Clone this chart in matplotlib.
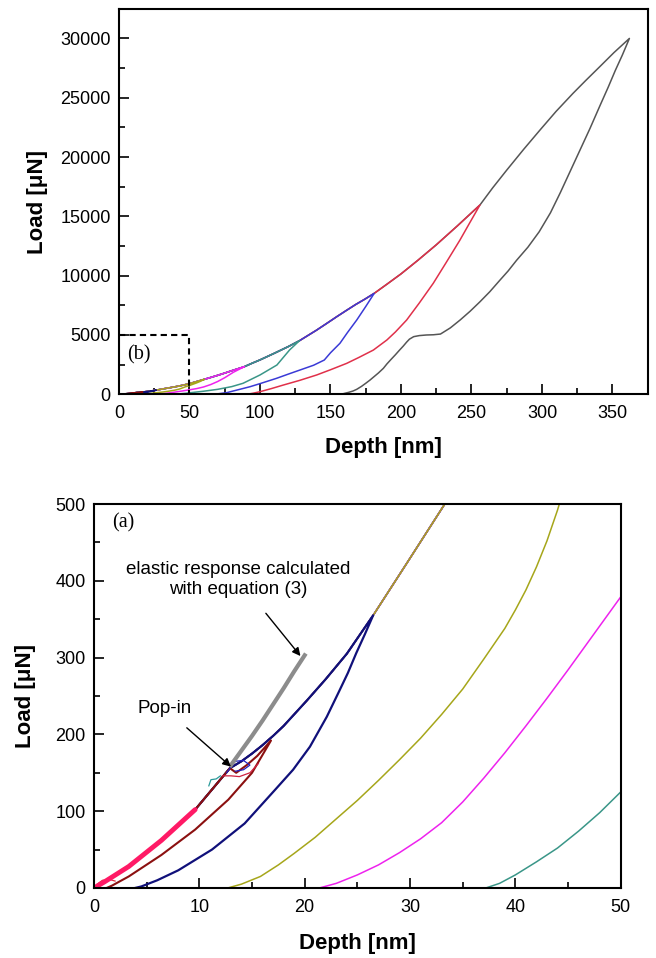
import matplotlib
matplotlib.use('Agg')
import matplotlib.pyplot as plt
from matplotlib.ticker import MultipleLocator

plt.rcParams['font.family'] = ['Liberation Sans', 'DejaVu Sans']

# common loading envelope (depth in nm, load in uN)
env_depth = [0, 1, 3.3, 6.4, 9.6, 12.9, 14, 15, 16, 17, 18, 19, 20.2, 22, 24, 26.5,
             29.7, 33.3, 36, 40, 45, 50, 55, 60.5, 65, 70, 75, 80, 85, 88.9, 94, 100, 110,
             120, 128, 140, 147, 154.4, 161, 168, 174.5, 181, 190, 200, 212, 225, 240, 256,
             265, 275, 287, 298.6, 310, 322, 331, 341, 351, 362]
env_load = [0, 8, 28, 62, 102, 156, 165, 175, 186, 198, 211, 226, 244, 272, 305, 355,
            423, 500, 555, 640, 760, 900, 1070, 1264, 1420, 1600, 1790, 1990, 2180, 2330, 2600,
            2900, 3450, 4020, 4520, 5400, 5950, 6540, 7050, 7580, 8030, 8510, 9280, 10150,
            11300, 12600, 14200, 15960, 17400, 18900, 20650, 22280, 23850, 25370, 26450, 27620,
            28800, 30000]

# unloading branches
gray_d = [362, 357, 352, 347, 341, 334, 327, 320, 313, 306, 298, 290, 282, 276, 270, 263,
          256, 249, 242, 235, 228, 223, 218, 213, 209, 206, 204, 201.5, 199, 196, 193, 190,
          187.5, 184, 181, 178, 175, 172, 168.6, 166, 163, 159, 154.5]
gray_p = [30000, 28600, 27300, 25900, 24300, 22400, 20600, 18800, 17000, 15300, 13700,
          12400, 11300, 10400, 9600, 8650, 7800, 7000, 6270, 5600, 5080, 5020, 5000, 4950,
          4860, 4650, 4400, 4050, 3730, 3330, 2950, 2560, 2190, 1800, 1500, 1200, 930, 670,
          420, 280, 170, 50, 0]

red_d = [256, 248, 241.8, 232, 222.9, 213, 204, 196, 190, 180.4, 170, 161.5, 150, 140.2,
         128, 116.5, 108, 100, 95, 90.6]
red_p = [15960, 14300, 13000, 11100, 9360, 7700, 6260, 5250, 4580, 3730, 3100, 2610, 2070,
         1630, 1170, 780, 480, 220, 90, 0]

blue_d = [181, 175, 168.6, 162, 156.7, 150, 145.6, 138, 128.4, 120, 111.8, 100, 92.9, 85,
          76.4, 70, 64.5]
blue_p = [8510, 7400, 6260, 5200, 4300, 3500, 2890, 2450, 2050, 1700, 1350, 900, 640, 400,
          140, 40, 0]

teal_d = [128, 121, 112, 100, 88, 80, 70, 60, 50, 48, 46, 44, 42, 40, 38.5, 37.2]
teal_p = [4520, 3740, 2470, 1630, 930, 650, 420, 260, 125, 98, 74, 52, 34, 17, 6, 0]

magenta_d = [88.9, 81, 75, 70, 65, 60, 55, 50, 49, 47, 45, 43, 41, 39, 37, 35, 33, 31,
             29, 27, 25, 23, 21.4]
magenta_p = [2330, 1850, 1400, 1080, 820, 620, 480, 379, 360, 322, 284, 247, 211, 176,
             143, 112, 85, 64, 46, 30, 17, 6, 0]

olive_d = [60.5, 58, 55, 50.4, 47, 44.5, 44, 43, 42, 41, 40, 39, 37, 35, 33, 31, 29, 27,
           25, 23, 21, 19, 17.5, 15.8, 14, 12.7]
olive_p = [1264, 1110, 960, 760, 630, 515, 492, 452, 418, 388, 362, 338, 298, 259, 226,
           195, 167, 140, 114, 90, 66, 45, 30, 15, 5, 0]

navy_d = [26.5, 25.7, 24.9, 24.1, 23.3, 22.1, 20.5, 18.9, 17.2, 14.3, 11.2, 8, 6, 4.5, 3.9]
navy_p = [355, 330, 306, 280, 257, 223, 184, 154, 128, 84, 50, 23, 10, 2, 0]

maroon_d = [12.9, 13.5, 14.5, 15.5, 16.8, 15, 12.75, 9.6, 6.4, 3.3, 1.7, 1.2]
maroon_p = [156, 150, 160, 172, 192, 150, 115, 76, 43, 15, 3, 0]

# small pop-in excursions
loop_blue_d = [12.6, 13.0, 13.4, 14.2, 14.8, 14.2, 13.4]
loop_blue_p = [150, 158, 165, 166, 160, 154, 152]
loop_red_d = [12.2, 13.0, 13.8, 14.8, 15.6]
loop_red_p = [146, 146, 145, 150, 162]
loop_teal_d = [10.9, 11.1, 11.6, 12.0]
loop_teal_p = [133, 141, 142, 146]
start_d = [0.3, 0.8, 1.5, 2.0]
start_p = [5, 10, 11, 9]

# elastic response (equation 3)
elastic_d = [13, 14, 15, 16, 17, 18, 19, 20]
elastic_p = [160, 179, 198, 218, 239, 260, 282, 303]

cycles = [
    (362, gray_d, gray_p, '#555555'),
    (256, red_d, red_p, '#e0304a'),
    (181, blue_d, blue_p, '#3a3ad6'),
    (128, teal_d, teal_p, '#3a9688'),
    (88.9, magenta_d, magenta_p, '#ee22ee'),
    (60.5, olive_d, olive_p, '#a6a61a'),
]


def draw(ax, bottom_panel):
    lw = 1.1
    for peak, ud, up, c in cycles:
        ld = [d for d in env_depth if d <= peak]
        lp = env_load[:len(ld)]
        ax.plot(ld + ud, lp + up, color=c, lw=lw)
    # navy cycle
    ld = [d for d in env_depth if d <= 26.5]
    lp = env_load[:len(ld)]
    ax.plot(ld + navy_d, lp + navy_p, color='#10107a', lw=1.6 if bottom_panel else lw)
    # maroon cycle
    ld = [d for d in env_depth if d <= 12.9]
    lp = env_load[:len(ld)]
    ax.plot(ld + maroon_d, lp + maroon_p, color='#8b1010', lw=1.5 if bottom_panel else lw)
    if bottom_panel:
        ax.plot(loop_teal_d, loop_teal_p, color='#2a9a9a', lw=0.9)
        ax.plot(loop_red_d, loop_red_p, color='#d02040', lw=0.9)
        ax.plot(loop_blue_d, loop_blue_p, color='#2020c0', lw=0.9)
        ax.plot(start_d, start_p, color='#e03040', lw=0.9)
        ld = [d for d in env_depth if d <= 9.6]
        ax.plot(ld, env_load[:len(ld)], color='#ff1a66', lw=3.5, solid_capstyle='round')
        ax.plot(elastic_d, elastic_p, color='#8c8c8c', lw=3)


def style(ax, xmaj, xmin, ymaj, ymin):
    ax.xaxis.set_major_locator(MultipleLocator(xmaj))
    ax.xaxis.set_minor_locator(MultipleLocator(xmin))
    ax.yaxis.set_major_locator(MultipleLocator(ymaj))
    ax.yaxis.set_minor_locator(MultipleLocator(ymin))
    ax.tick_params(which='both', direction='in', top=False, right=False, width=1.2,
                   labelsize=13)
    ax.tick_params(which='major', length=7)
    ax.tick_params(which='minor', length=4)
    ax.tick_params(axis='x', pad=8)
    ax.tick_params(axis='y', pad=6)
    for s in ax.spines.values():
        s.set_linewidth(1.5)


fig = plt.figure(figsize=(6.56, 9.58), dpi=100)

# top panel: full curves
ax1 = fig.add_axes([0.1814, 0.5884, 0.806, 0.4022])
draw(ax1, False)
ax1.plot([0, 50, 50], [5000, 5000, 0], color='black', lw=1.5, dashes=(3, 2))
ax1.text(14, 3300, '(b)', family='Liberation Serif', fontsize=14.5, ha='center', va='center')
ax1.set_xlim(0, 375)
ax1.set_ylim(0, 32480)
style(ax1, 50, 25, 5000, 2500)
ax1.set_xlabel('Depth [nm]', fontsize=16, fontweight='bold')
ax1.set_ylabel('Load [\u03bcN]', fontsize=16, fontweight='bold')
ax1.xaxis.set_label_coords(0.5, -0.139)
ax1.xaxis.label.set_va('center')
ax1.yaxis.set_label_coords(-0.155, 0.5)
ax1.yaxis.label.set_va('center')

# bottom panel: first 50 nm
ax2 = fig.add_axes([0.1433, 0.0731, 0.8029, 0.4008])
draw(ax2, True)
ax2.annotate('Pop-in', xy=(13.0, 158), xytext=(6.7, 234), fontsize=13.5,
             ha='center', va='center',
             arrowprops=dict(arrowstyle='-|>', color='black', lw=1, mutation_scale=12,
                             shrinkA=9, shrinkB=0))
ax2.annotate('elastic response calculated\nwith equation (3)', xy=(19.6, 302),
             xytext=(13.7, 402), fontsize=13.5, ha='center', va='center',
             arrowprops=dict(arrowstyle='-|>', color='black', lw=1, mutation_scale=12,
                             shrinkA=12, shrinkB=0))
ax2.text(2.75, 476, '(a)', family='Liberation Serif', fontsize=14.5, ha='center', va='center')
ax2.set_xlim(0, 50)
ax2.set_ylim(0, 500)
style(ax2, 10, 5, 100, 50)
ax2.set_xlabel('Depth [nm]', fontsize=16, fontweight='bold')
ax2.set_ylabel('Load [\u03bcN]', fontsize=16, fontweight='bold')
ax2.xaxis.set_label_coords(0.5, -0.144)
ax2.xaxis.label.set_va('center')
ax2.yaxis.set_label_coords(-0.131, 0.5)
ax2.yaxis.label.set_va('center')

fig.savefig('out.png', dpi=100)
